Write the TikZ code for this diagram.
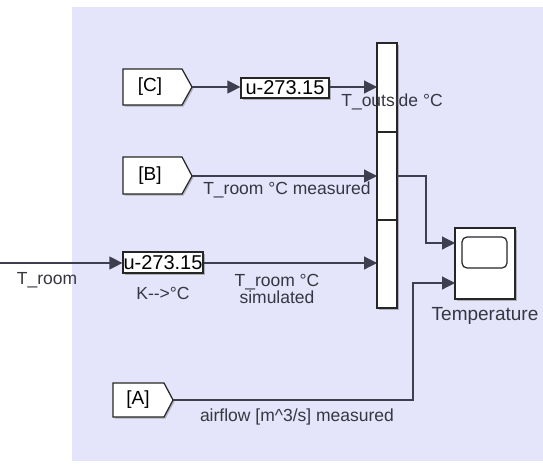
\documentclass[tikz,border=0pt]{standalone}
\usepackage{fontspec}
\setmainfont{Liberation Sans}
\usetikzlibrary{arrows.meta,shadows}
\definecolor{bgc}{RGB}{228,228,250}
\definecolor{linec}{RGB}{62,62,78}
\definecolor{txtc}{RGB}{55,55,65}
\tikzset{
  shd/.style={drop shadow={shadow xshift=1.5pt, shadow yshift=-1.5pt, fill=black!45, opacity=0.6}},
  blk/.style={draw=black!85, fill=white, line width=1.2pt, inner sep=0pt, shd},
  tagpath/.style={draw=black!85, fill=white, line width=1.2pt, shd},
  tagtxt/.style={inner sep=0pt, font=\fontsize{19}{21}\selectfont},
  conn/.style={draw=linec, line width=1.2pt},
  arr/.style={conn, -{Triangle[length=13pt,width=13pt]}},
  lbl/.style={text=txtc, font=\fontsize{17.5}{19}\selectfont, inner sep=0pt, align=center},
}
\begin{document}
\begin{tikzpicture}[x=1pt,y=-1pt]
\useasboundingbox (0,0) rectangle (543,463);
\fill[white] (0,0) rectangle (543,463);
\fill[bgc] (72,7) rectangle (543,461);

% goto tags
\draw[tagpath] (123,69) -- (182,69) -- (192,87) -- (182,105) -- (123,105) -- cycle;
\node[tagtxt] (C) at (150,87) {[C]};
\coordinate (Ct) at (192,87);
\draw[tagpath] (123,157) -- (182,157) -- (192,176) -- (182,194) -- (123,194) -- cycle;
\node[tagtxt] (B) at (150,175.5) {[B]};
\coordinate (Bt) at (192,176);
\draw[tagpath] (113,383) -- (164,383) -- (173,400) -- (164,417) -- (113,417) -- cycle;
\node[tagtxt] (A) at (138,400) {[A]};
\coordinate (At) at (173,400);

% blocks
\node[blk, minimum width=88pt, minimum height=20pt, font=\fontsize{20}{22}\selectfont] (u1) at (285,88) {u-273.15};
\node[blk, minimum width=80pt, minimum height=21pt, font=\fontsize{20}{22}\selectfont] (u2) at (163,262.5) {u-273.15};
\node[blk, minimum width=20pt, minimum height=265pt] (mux) at (387,175.5) {};
\draw[black!85, line width=1.2pt] (377,132) -- (397,132) (377,220) -- (397,220);
\node[blk, minimum width=60pt, minimum height=71pt] (scope) at (485,263.5) {};
\node[draw=black!85, line width=1.2pt, rounded corners=5pt, minimum width=45pt, minimum height=31pt, inner sep=0pt] (screen) at (484.5,252.5) {};

% coordinates
\coordinate (tin) at (0,263);
\coordinate (m1) at (377,87);
\coordinate (m2) at (377,176);
\coordinate (m3) at (377,263);
\coordinate (mo) at (397,176);
\coordinate (s1) at (455,243);
\coordinate (s2) at (455,283);

% connectors
\draw[arr] (Ct) -- (u1.west |- Ct);
\draw[arr] (u1.east |- m1) -- (m1);
\draw[arr] (Bt) -- (m2);
\draw[arr] (tin) -- (u2.west |- tin);
\draw[arr] (u2.east |- m3) -- (m3);
\draw[arr] (mo) -- (426,176) -- (426,243) -- (s1);
\draw[arr] (At) -- (413,400) -- (413,283) -- (s2);

% labels
\node[lbl] (lo) at (392,102) {T\_outside °C};
\node[lbl] (lb) at (287,190) {T\_room °C measured};
\node[lbl] (lt) at (47,280) {T\_room};
\node[lbl] (lk) at (163,293) {K-{}->°C};
\node[lbl] (ls) at (277,288.5) {T\_room °C\\[-2pt]simulated};
\node[lbl, font=\fontsize{19}{21}\selectfont] (lte) at (485,316) {Temperature};
\node[lbl] (la) at (297,417) {airflow [m\textasciicircum 3/s] measured};
\end{tikzpicture}
\end{document}
